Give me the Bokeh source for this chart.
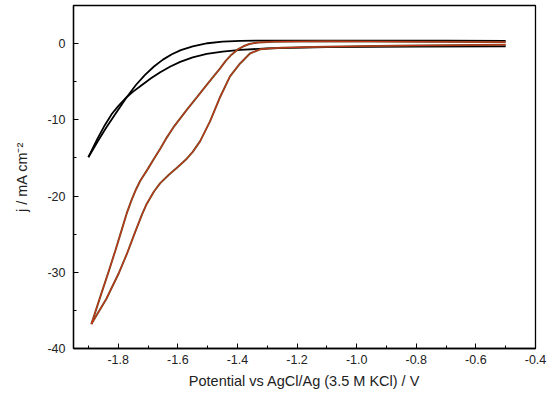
from bokeh.plotting import figure
from bokeh.models import FixedTicker, Range1d
from bokeh.embed import file_html
from bokeh.resources import INLINE

# Black CV: cathodic scan from -0.5 V, then return scan
black_fwd_v = [-0.50, -0.80, -1.10, -1.30, -1.39, -1.45, -1.503, -1.55, -1.592, -1.625, -1.659, -1.69, -1.726, -1.75, -1.771, -1.80, -1.821, -1.845, -1.87, -1.90]
black_fwd_j = [-0.35, -0.40, -0.47, -0.62, -0.82, -1.05, -1.35, -1.80, -2.40, -3.00, -3.75, -4.55, -5.60, -6.30, -7.00, -8.20, -9.20, -10.7, -12.5, -14.9]
black_rev_v = [-1.90, -1.87, -1.84, -1.804, -1.771, -1.74, -1.71, -1.68, -1.65, -1.62, -1.59, -1.55, -1.50, -1.45, -1.39, -1.30, -1.00, -0.70, -0.50]
black_rev_j = [-14.9, -12.9, -11.0, -8.9, -7.0, -5.4, -4.1, -3.0, -2.1, -1.4, -0.85, -0.35, 0.05, 0.25, 0.36, 0.40, 0.40, 0.38, 0.35]

# Red CV: cathodic scan from -0.5 V, then return scan
red_fwd_v = [-0.50, -0.80, -1.00, -1.15, -1.25, -1.28, -1.324, -1.358, -1.391, -1.425, -1.458, -1.492, -1.525, -1.55, -1.57, -1.60, -1.63, -1.659, -1.68, -1.704, -1.72, -1.743, -1.771, -1.799, -1.84, -1.89]
red_fwd_j = [-0.15, -0.25, -0.35, -0.45, -0.55, -0.60, -0.75, -1.30, -2.60, -4.30, -7.00, -10.2, -12.8, -14.2, -15.1, -16.2, -17.2, -18.3, -19.4, -21.0, -22.4, -24.7, -27.6, -30.2, -33.5, -36.8]
red_rev_v = [-1.89, -1.86, -1.832, -1.81, -1.788, -1.77, -1.755, -1.74, -1.726, -1.70, -1.68, -1.659, -1.64, -1.615, -1.59, -1.57, -1.535, -1.503, -1.48, -1.458, -1.44, -1.42, -1.40, -1.38, -1.36, -1.33, -1.28, -1.10, -0.80, -0.50]
red_rev_j = [-36.8, -33.2, -29.9, -27.2, -24.4, -22.1, -20.5, -19.1, -18.0, -16.4, -15.1, -13.8, -12.5, -11.0, -9.7, -8.7, -7.0, -5.4, -4.3, -3.25, -2.3, -1.45, -0.80, -0.35, -0.05, 0.15, 0.26, 0.30, 0.25, 0.20]

x_major = [-1.8, -1.6, -1.4, -1.2, -1.0, -0.8, -0.6, -0.4]
x_minor = [-1.9, -1.7, -1.5, -1.3, -1.1, -0.9, -0.7, -0.5]
y_major = [0, -10, -20, -30, -40]
y_minor = [5, -5, -15, -25, -35]

FONT = "Liberation Sans"

p = figure(
    output_backend="svg", toolbar_location=None,
    frame_width=462, frame_height=343,
    min_border_left=73, min_border_right=13, min_border_top=5, min_border_bottom=45,
    x_range=Range1d(-1.95, -0.4), y_range=Range1d(-40, 5),
)
p.background_fill_color = "white"
p.border_fill_color = "white"
p.outline_line_color = "black"
p.outline_line_width = 1.3
p.grid.visible = False

p.line(black_fwd_v, black_fwd_j, line_color="black", line_width=1.8)
p.line(black_rev_v, black_rev_j, line_color="black", line_width=1.8)

p.line(red_fwd_v, red_fwd_j, line_color="#6e4a1e", line_width=2.0)
p.line(red_rev_v, red_rev_j, line_color="#6e4a1e", line_width=2.0)
p.line(red_fwd_v, red_fwd_j, line_color="#d8301c", line_width=0.9)
p.line(red_rev_v, red_rev_j, line_color="#d8301c", line_width=0.9)

p.xaxis.ticker = FixedTicker(ticks=x_major, minor_ticks=x_minor)
p.yaxis.ticker = FixedTicker(ticks=y_major, minor_ticks=y_minor)
p.xaxis.major_label_overrides = {v: f"{v:.1f}" for v in x_major}
p.yaxis.major_label_overrides = {v: f"{v}" for v in y_major}

for ax in (p.xaxis[0], p.yaxis[0]):
    ax.axis_line_color = "black"
    ax.axis_line_width = 1.3
    ax.major_tick_in = 5
    ax.major_tick_out = 0
    ax.minor_tick_in = 3
    ax.minor_tick_out = 0
    ax.major_tick_line_color = "black"
    ax.minor_tick_line_color = "black"
    ax.major_label_text_font = FONT
    ax.major_label_text_font_size = "12.5px"
    ax.major_label_text_color = "#222222"
    ax.axis_label_text_font = FONT
    ax.axis_label_text_font_size = "14.5px"
    ax.axis_label_text_font_style = "normal"
    ax.axis_label_text_color = "#222222"

p.xaxis.axis_label = "Potential vs AgCl/Ag (3.5 M KCl) / V"
p.yaxis.axis_label = "j / mA cm\u207b\u00b2"
p.xaxis.major_label_standoff = 6
p.yaxis.major_label_standoff = 8
p.xaxis.axis_label_standoff = 6
p.yaxis.axis_label_standoff = 14

open("out.html", "w").write(file_html(p, INLINE))
